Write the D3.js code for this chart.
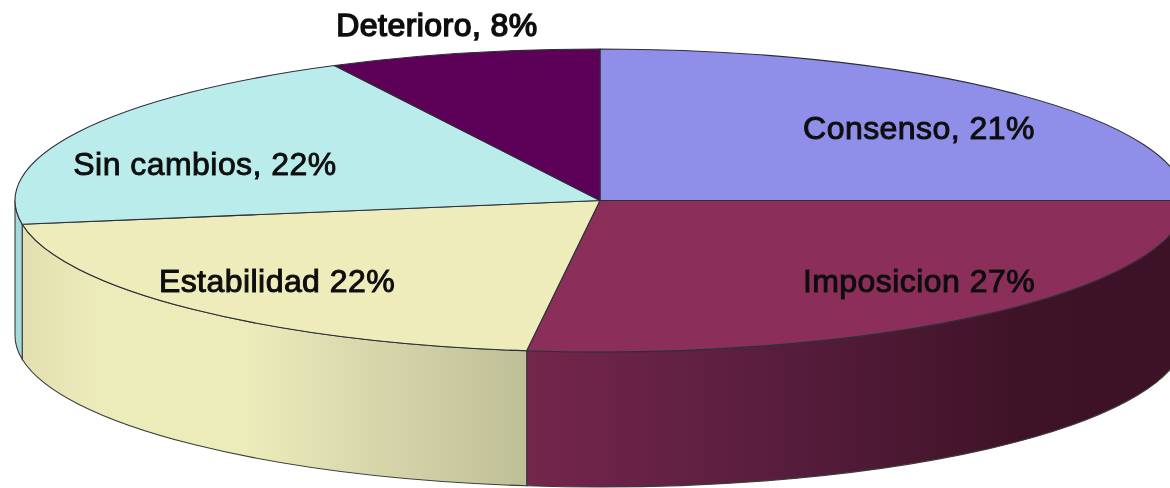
<!DOCTYPE html>
<html><head><meta charset="utf-8">
<script src="https://cdn.jsdelivr.net/npm/d3@7"></script>
<style>html,body{margin:0;background:#fff;overflow:hidden}svg{display:block}
text{font-family:"Liberation Sans",Arial,sans-serif;font-size:32px;font-weight:400;letter-spacing:.45px}</style>
</head><body><svg id="c" width="1170" height="488"></svg>
<script>
const categories = ["Consenso","Imposicion","Estabilidad","Sin cambios","Deterioro"];
const statedPercent = [21,27,22,22,8];
const drawnShare = [25,27,20.5,20,7.5];
const labels = ["Consenso, 21%","Imposicion 27%","Estabilidad 22%","Sin cambios, 22%","Deterioro, 8%"];
const topColors = ["#8f8fea","#8b2e5a","#eeecbb","#bbecec","#5c0058"];
const sideStops = [
  [],
  [[0,"#74264b"],[0.35,"#5a1e3f"],[0.75,"#3f1327"],[1,"#3d1226"]],
  [[0,"#e3dfb0"],[0.15,"#ecebba"],[0.45,"#ecebba"],[0.75,"#d3d2a8"],[1,"#bfbf97"]],
  [[0,"#a5dada"],[1,"#a5dada"]],
  []
];
const labelAnchor = [[919,139],[919,292],[277,292],[205,175],[437,36]];
const labelWeight = [1,1,1,0.9,1.5];

const cx=600, cy=200.5, rx=585, ry=151.5, depth=135;
const svg=d3.select("#c");
const defs=svg.append("defs");
const blur=defs.append("filter").attr("id","soft").attr("x","-5%").attr("y","-20%").attr("width","110%").attr("height","140%");
blur.append("feGaussianBlur").attr("stdDeviation",0.6);

const slices=d3.pie().sort(null).value(d=>d)(drawnShare);
const X=a=>cx+rx*Math.sin(a), Y=a=>cy-ry*Math.cos(a);
const arcTo=(a0,a1,dy,sweep)=>{
  const large=Math.abs(a1-a0)>Math.PI?1:0;
  return `A${rx},${ry} 0 ${large} ${sweep} ${X(a1)},${Y(a1)+dy}`;
};
const wallRange=[Math.PI/2,3*Math.PI/2];
slices.forEach((s,i)=>{
  const a0=Math.max(s.startAngle,wallRange[0]), a1=Math.min(s.endAngle,wallRange[1]);
  if(a1<=a0) return;
  const id="w"+i;
  const g=defs.append("linearGradient").attr("id",id).attr("gradientUnits","userSpaceOnUse")
    .attr("x1",Math.min(X(a0),X(a1))).attr("x2",Math.max(X(a0),X(a1))).attr("y1",0).attr("y2",0);
  sideStops[i].forEach(p=>g.append("stop").attr("offset",p[0]).attr("stop-color",p[1]));
  svg.append("path")
    .attr("d",`M${X(a0)},${Y(a0)}${arcTo(a0,a1,0,1)}L${X(a1)},${Y(a1)+depth}${arcTo(a1,a0,depth,0)}Z`)
    .attr("fill",`url(#${id})`).attr("stroke","#3c3c38").attr("stroke-width",1.1);
});
slices.forEach((s,i)=>{
  svg.append("path")
    .attr("d",`M${cx},${cy}L${X(s.startAngle)},${Y(s.startAngle)}${arcTo(s.startAngle,s.endAngle,0,1)}Z`)
    .attr("fill",topColors[i]).attr("stroke","#2e2e3a").attr("stroke-width",1.1).attr("stroke-linejoin","round");
});
svg.append("g").attr("filter","url(#soft)").selectAll("text").data(labels).join("text")
  .attr("x",(d,i)=>labelAnchor[i][0]).attr("y",(d,i)=>labelAnchor[i][1])
  .attr("text-anchor","middle").attr("fill","#111").attr("stroke","#111")
  .attr("stroke-width",(d,i)=>labelWeight[i])
  .text(d=>d);
</script></body></html>
